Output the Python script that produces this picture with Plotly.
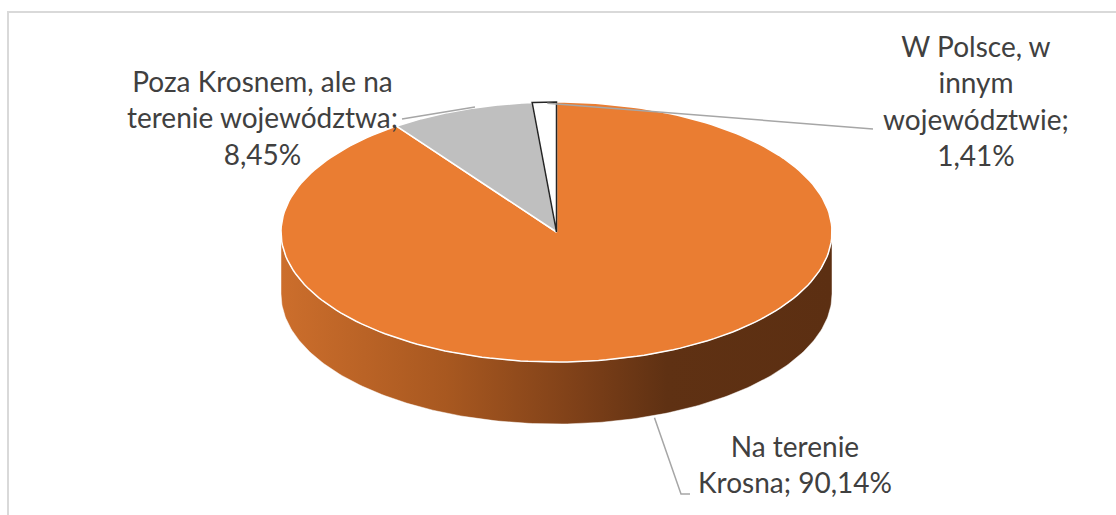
import numpy as np
import plotly.graph_objects as go

# ---- data ----
categories = ["Na terenie Krosna",
              "Poza Krosnem, ale na terenie województwa",
              "W Polsce, w innym województwie"]
values = [90.14, 8.45, 1.41]
label_lines = [["Na terenie", "Krosna;"],
               ["Poza Krosnem, ale na", "terenie województwa;"],
               ["W Polsce, w", "innym", "województwie;"]]

# ---- styling / layout ----
colors = ["#ea7d32", "#bfbfbf", "#ffffff"]
edge_colors = ["#ffffff", "#ffffff", "#262626"]
W, H = 1116, 515
CX, CY, RX, RY, DEPTH = 556.5, 232.0, 275.5, 130.0, 62.0
label_pos = [(795, 464), (262, 117), (976, 100)]
font = dict(family="Lato, Noto Sans, sans-serif", size=28, color="#404040")


def pt(theta, dy=0.0):
    t = np.radians(theta)
    return CX + RX * np.sin(t), CY - RY * np.cos(t) + dy


def arc(a0, a1, dy=0.0, n=200):
    th = np.linspace(a0, a1, n)
    x, y = pt(th, dy)
    return list(x), list(y)


total = sum(values)
angles = np.concatenate([[0], np.cumsum(values) / total * 360.0])

fig = go.Figure()

# side walls (front half only)
for i, v in enumerate(values):
    a0, a1 = angles[i], angles[i + 1]
    lo, hi = max(a0, 90.0), min(a1, 270.0)
    if lo >= hi:
        continue
    tx, ty = arc(lo, hi)
    bx, by = arc(hi, lo, DEPTH)
    xs = tx + bx + [tx[0]]
    ys = ty + by + [ty[0]]
    kw = {}
    if i == 0:
        kw["fillgradient"] = dict(type="horizontal",
                                  colorscale=[[0, "#cc6e2c"], [0.3, "#a85820"],
                                              [0.55, "#7c3f18"], [0.7, "#5f3113"],
                                              [1, "#5c2f12"]])
    fig.add_trace(go.Scatter(x=xs, y=ys, mode="lines", fill="toself",
                             fillcolor=colors[i], line=dict(color="rgba(255,255,255,0.6)", width=0.8),
                             hoverinfo="skip", showlegend=False, **kw))

# top faces
for i, v in enumerate(values):
    a0, a1 = angles[i], angles[i + 1]
    ax_, ay_ = arc(a0, a1)
    xs = [CX] + ax_ + [CX]
    ys = [CY] + ay_ + [CY]
    fig.add_trace(go.Scatter(x=xs, y=ys, mode="lines", fill="toself",
                             fillcolor=colors[i],
                             line=dict(color=edge_colors[i], width=1.5),
                             hoverinfo="skip", showlegend=False, name=categories[i]))

# leader lines
mids = [(angles[i] + angles[i + 1]) / 2 for i in range(len(values))]
lc = dict(color="#a6a6a6", width=1.5)
ox, oy = pt(mids[0], DEPTH)
fig.add_trace(go.Scatter(x=[ox + 14, 681, 690], y=[oy, 494, 494], mode="lines",
                         line=lc, hoverinfo="skip", showlegend=False))
gx, gy = pt(mids[1])
fig.add_trace(go.Scatter(x=[402, gx + 14], y=[119, gy - 3], mode="lines",
                         line=lc, hoverinfo="skip", showlegend=False))
wx, wy = pt(mids[2])
fig.add_trace(go.Scatter(x=[wx + 3, 873], y=[wy + 1, 129], mode="lines",
                         line=lc, hoverinfo="skip", showlegend=False))

# labels
for i, v in enumerate(values):
    pct = f"{v:.2f}".replace(".", ",") + "%"
    lines = list(label_lines[i])
    if i == 0:
        lines[-1] = lines[-1] + " " + pct
    else:
        lines.append(pct)
    fig.add_annotation(x=label_pos[i][0], y=label_pos[i][1], xref="x", yref="y",
                       text="<br>".join(lines), showarrow=False, font=font,
                       align="center", xanchor="center", yanchor="middle")

# chart border
fig.add_shape(type="rect", xref="x", yref="y", x0=8, y0=12, x1=W + 20, y1=H + 20,
              line=dict(color="#d9d9d9", width=2), fillcolor="rgba(0,0,0,0)", layer="below")

fig.update_layout(width=W, height=H, margin=dict(l=0, r=0, t=0, b=0),
                  paper_bgcolor="white", plot_bgcolor="white",
                  xaxis=dict(range=[0, W], visible=False, fixedrange=True),
                  yaxis=dict(range=[H, 0], visible=False, fixedrange=True),
                  showlegend=False)

fig.write_html("out.html", config={"displayModeBar": False},
               post_script="document.body.style.margin='0';document.body.style.overflow='hidden';")
